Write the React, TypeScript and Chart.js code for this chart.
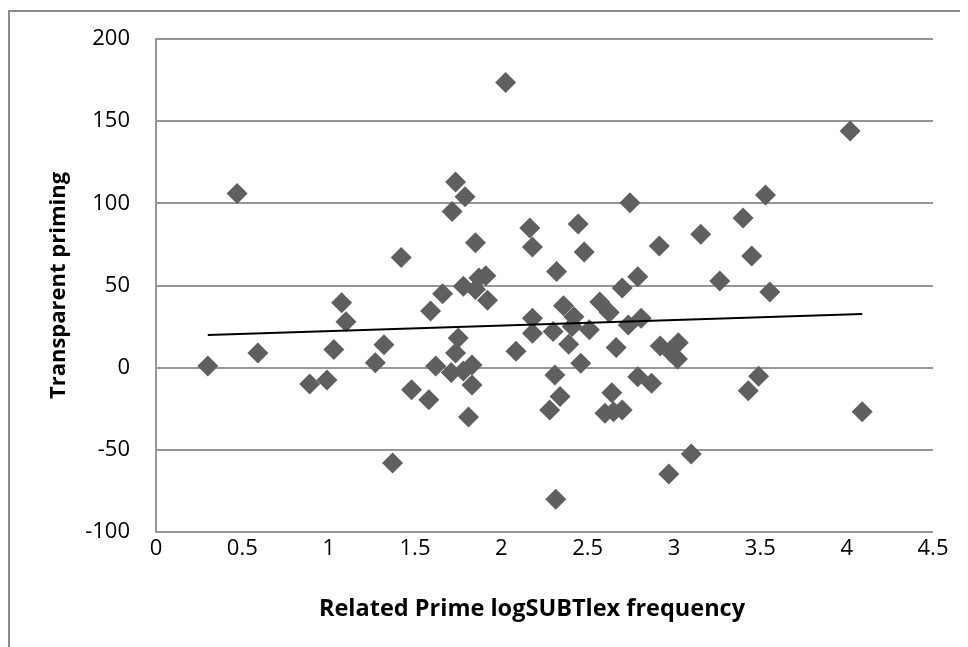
import React, { useEffect, useRef } from "react";
import { Chart, registerables } from "chart.js";

Chart.register(...registerables);

const primeFrequency: number[] = [
  0.3, 0.47, 0.59, 0.89, 0.99, 1.03, 1.075, 1.1, 1.27, 1.32,
  1.37, 1.42, 1.48, 1.58, 1.59, 1.62, 1.66, 1.71, 1.715, 1.735,
  1.735, 1.75, 1.78, 1.79, 1.83, 1.81, 1.83, 1.85, 1.85, 1.87,
  1.91, 1.92, 2.025, 2.085, 2.165, 2.18, 2.18, 2.18, 2.28, 2.3,
  2.31, 2.315, 2.32, 2.34, 2.36, 2.39, 2.41, 2.42, 2.445, 2.46,
  2.48, 2.51, 2.57, 2.6, 2.625, 2.64, 2.65, 2.665, 2.7, 2.7,
  2.735, 2.745, 2.79, 2.79, 2.81, 2.87, 2.915, 2.92, 2.97, 2.975,
  3.025, 3.02, 3.1, 3.155, 3.265, 3.4, 3.43, 3.45, 3.49, 3.53,
  3.555, 4.02, 4.09, 1.78,
];

const transparentPriming: number[] = [
  1, 106, 9, -10, -7.5, 11, 39.5, 28, 3, 14,
  -58, 67, -13.5, -19.5, 34.5, 1, 45, -3, 95, 9,
  113, 18, 49.5, 104, -10.5, -30, 1.6, 76, 47.5, 54.5,
  56, 41, 173.5, 10, 85, 73.5, 30, 21, -25.7, 22,
  -4.4, -80, 58.5, -17.6, 37.7, 14.3, 25, 31, 87.5, 2.7,
  70.4, 23, 40, -27.8, 33.6, -15.2, -26.8, 12.2, 48.5, -25.7,
  26, 100.4, 55.4, -5.5, 30, -9.5, 74, 13.2, -64.7, 10,
  15.2, 5.3, -52.5, 81.2, 52.8, 91, -14, 68, -5.2, 105,
  46, 144, -26.8, -2,
];

const trendX: number[] = [0.3, 4.09];
const trendY: number[] = [19.9, 32.7];

const xTitle = "Related Prime logSUBTlex frequency";
const yTitle = "Transparent priming";

const FONT = "'Open Sans', 'DejaVu Sans', sans-serif";

const frameAndTitle = {
  id: "frameAndTitle",
  afterDraw(chart: any) {
    const ctx = chart.ctx;
    ctx.save();
    ctx.strokeStyle = "#8c8c8c";
    ctx.lineWidth = 2;
    ctx.beginPath();
    ctx.moveTo(1, chart.height);
    ctx.lineTo(1, 3);
    ctx.lineTo(chart.width, 3);
    ctx.stroke();
    ctx.fillStyle = "#000";
    ctx.font = `bold 23.5px ${FONT}`;
    ctx.textAlign = "center";
    ctx.textBaseline = "middle";
    ctx.fillText(xTitle, 524, 601);
    ctx.restore();
  },
};

export default function App() {
  const ref = useRef<HTMLCanvasElement | null>(null);

  useEffect(() => {
    if (!ref.current) return;
    const points = primeFrequency.map((x, i) => ({ x, y: transparentPriming[i] }));
    const trend = trendX.map((x, i) => ({ x, y: trendY[i] }));
    const chart = new Chart(ref.current, {
      type: "scatter",
      data: {
        datasets: [
          {
            label: "Priming",
            data: points,
            pointStyle: "rectRot",
            pointRadius: 10.5,
            pointBackgroundColor: "#5f5f5f",
            pointBorderWidth: 0,
            pointBorderColor: "#5f5f5f",
            order: 2,
          },
          {
            type: "line",
            label: "Trend",
            data: trend,
            borderColor: "#000000",
            borderWidth: 2,
            pointRadius: 0,
            fill: false,
            order: 1,
          } as any,
        ],
      },
      plugins: [frameAndTitle],
      options: {
        responsive: false,
        animation: false,
        layout: { padding: { left: 0, top: 31, right: 35, bottom: 0 } },
        plugins: {
          legend: { display: false },
          tooltip: { enabled: false },
        },
        scales: {
          x: {
            type: "linear",
            min: 0,
            max: 4.5,
            afterFit: (s: any) => {
              s.height = 115;
            },
            ticks: {
              stepSize: 0.5,
              padding: 4,
              color: "#000",
              font: { family: FONT, size: 22 },
              callback: (v: any) => String(Math.round(Number(v) * 10) / 10),
            },
            grid: { display: false, drawTicks: false },
            border: { display: false },
            title: { display: false, text: xTitle },
          },
          y: {
            type: "linear",
            min: -100,
            max: 200,
            afterFit: (s: any) => {
              s.width = 148;
            },
            ticks: {
              stepSize: 50,
              padding: 0,
              color: "#000",
              font: { family: FONT, size: 22 },
            },
            grid: {
              color: "#969696",
              lineWidth: 2,
              drawTicks: true,
              tickLength: 26,
              tickColor: "rgba(0,0,0,0)",
            },
            border: { display: true, color: "#969696", width: 2 },
            title: {
              display: true,
              text: yTitle,
              color: "#000",
              font: { family: FONT, size: 22, weight: "bold" },
              padding: { top: 38, bottom: 0 },
            },
          },
        },
      },
    });
    return () => chart.destroy();
  }, []);

  return (
    <div style={{ width: 960, height: 639 }}>
      <canvas ref={ref} width={960} height={639} style={{ display: "block" }} />
    </div>
  );
}
